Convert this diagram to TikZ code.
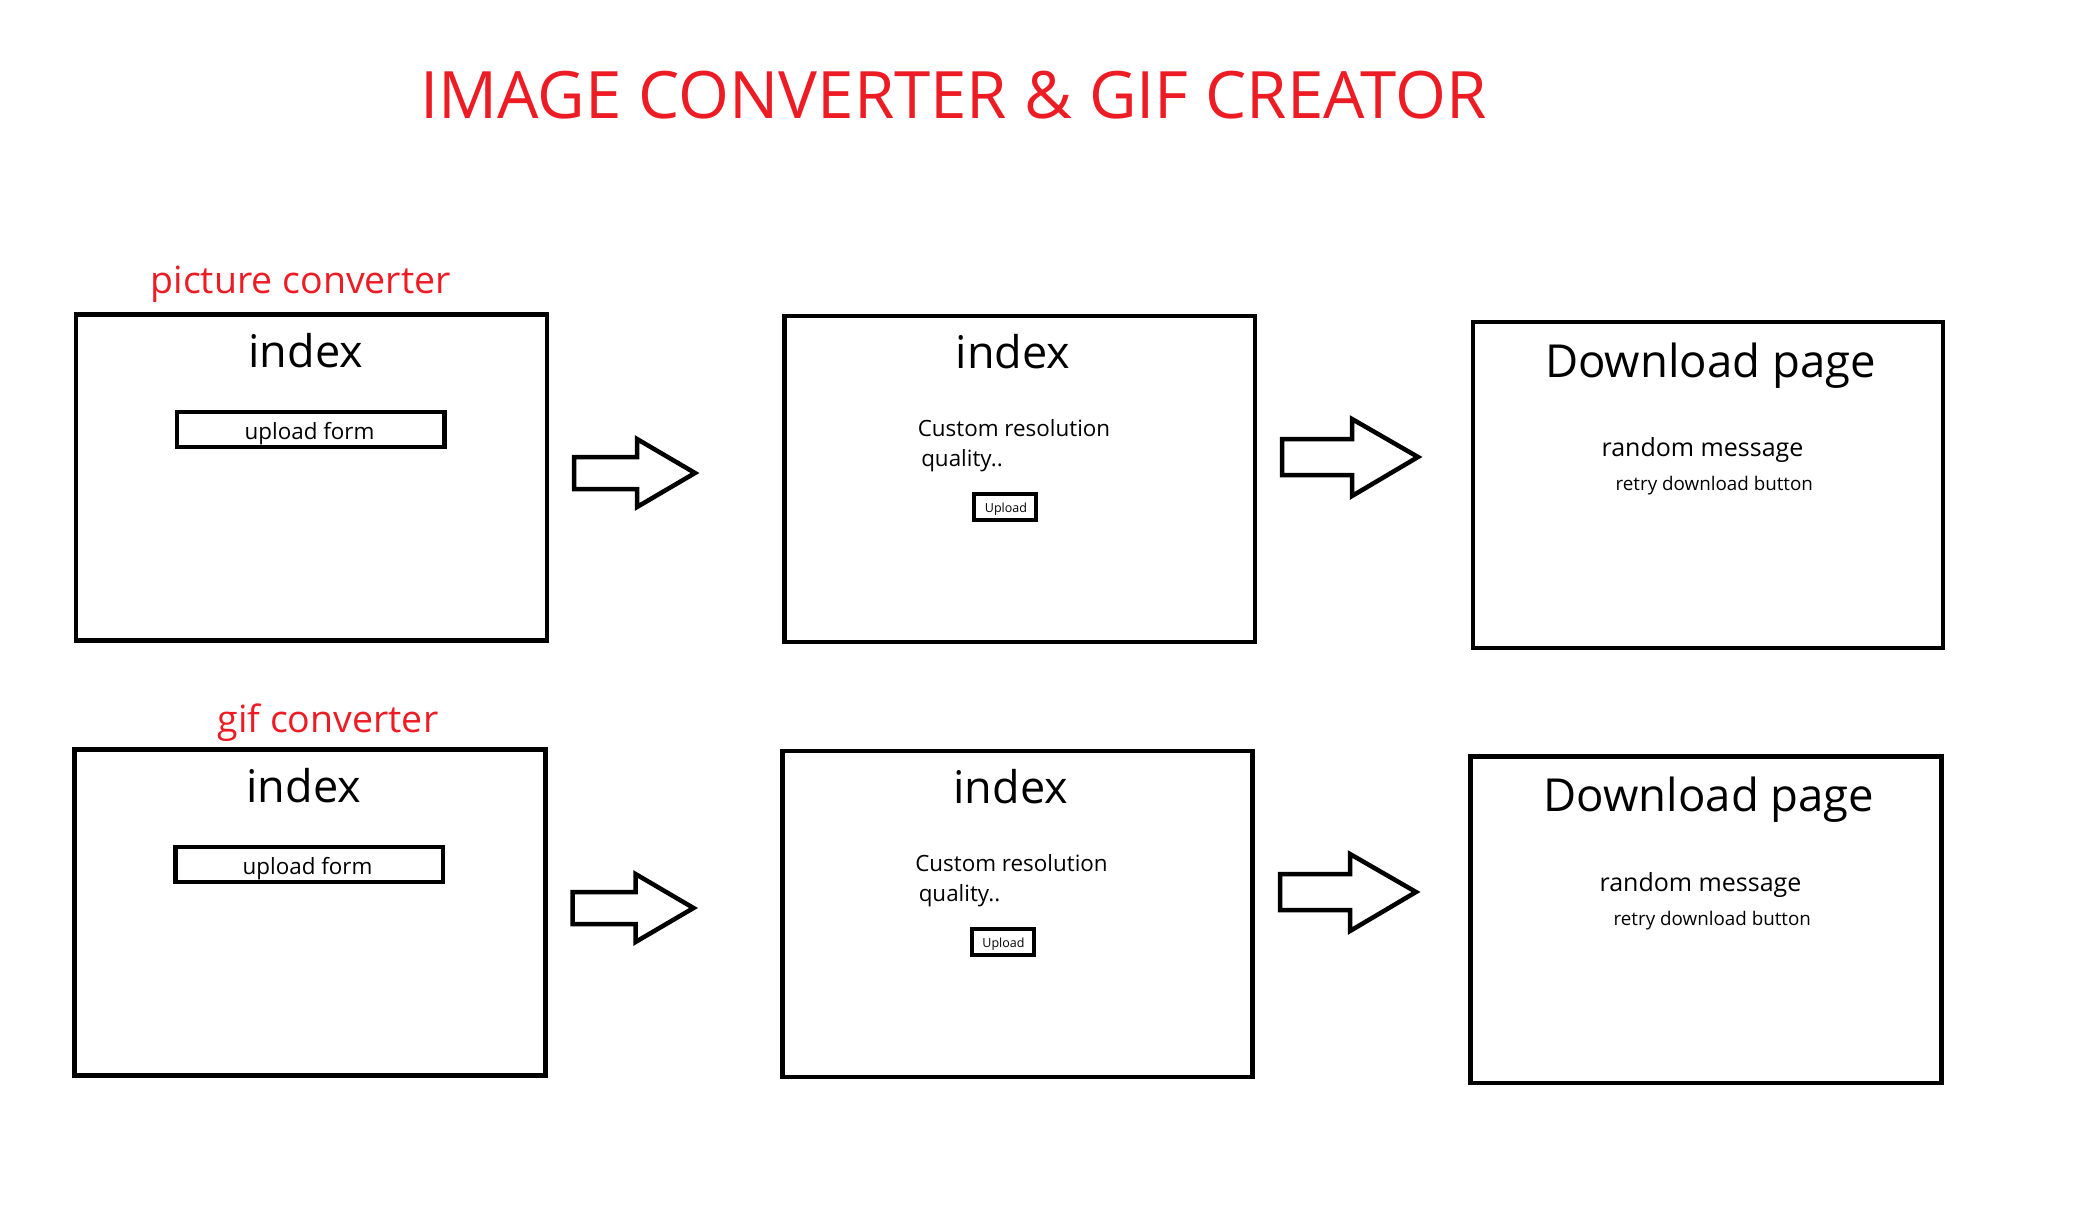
\documentclass[tikz,border=0pt]{standalone}
\usepackage{fontspec}
\setmainfont{Open Sans}
\definecolor{paintred}{RGB}{237,28,36}
\tikzset{
  pageframe/.style={draw=black, line width=4.7pt, rectangle, inner sep=0pt, outer sep=0pt,
                    minimum width=471pt, minimum height=326.5pt},
  formbox/.style={draw=black, line width=4.5pt, rectangle, inner sep=0pt, outer sep=0pt,
                  minimum width=267.5pt, minimum height=35pt},
  btnbox/.style={draw=black, line width=4pt, rectangle, inner sep=0pt, outer sep=0pt,
                 minimum width=62pt, minimum height=26pt},
  txt/.style={anchor=base, inner sep=0pt, outer sep=0pt, text=black},
  titletxt/.style={txt, text=paintred, font=\fontsize{65.4}{70}\selectfont},
  sectiontxt/.style={txt, text=paintred, font=\fontsize{37.5}{42}\selectfont},
  headtxt/.style={txt, font=\fontsize{45}{50}\selectfont},
  bigheadtxt/.style={txt, font=\fontsize{45.5}{50}\selectfont},
  bodytxt/.style={txt, font=\fontsize{22.4}{26}\selectfont},
  msgtxt/.style={txt, font=\fontsize{25}{29}\selectfont},
  smalltxt/.style={txt, font=\fontsize{18.8}{22}\selectfont},
  btntxt/.style={txt, font=\fontsize{12.5}{15}\selectfont},
  blockarr/.style={draw=black, line width=4.5pt, fill=white, line join=miter},
}
\begin{document}
\begin{tikzpicture}[x=1pt, y=-1pt]
  \useasboundingbox (0,0) rectangle (2081,1221);

  % heading
  \node[titletxt] (title) at (953.5,118) {IMAGE CONVERTER \& GIF CREATOR};

  % ---------- picture converter row ----------
  \node[sectiontxt] (picLabel) at (300.7,293) {picture converter};

  \node[pageframe] (picIndex) at (311.5,477.5) {};
  \node[headtxt] (picIndexTitle) at (305.8,367.7) {index};
  \node[formbox] (picForm) at (310.75,429.5) {};
  \node[bodytxt] (picFormText) at (309.5,439) {upload form};

  \node[pageframe, minimum width=470.5pt, minimum height=326pt] (picOpts) at (1019.75,479) {};
  \node[headtxt] (picOptsTitle) at (1013,368) {index};
  \node[bodytxt] (picOptsRes) at (1014,436) {Custom resolution};
  \node[bodytxt] (picOptsQual) at (962,466.7) {quality..};
  \node[btnbox] (picUpload) at (1005,507) {};
  \node[btntxt] (picUploadText) at (1006,512) {Upload};

  \node[pageframe, minimum width=470pt, minimum height=326pt] (picDown) at (1708,485) {};
  \node[bigheadtxt] (picDownTitle) at (1710.5,377) {Download page};
  \node[msgtxt] (picDownMsg) at (1702.5,456) {random message};
  \node[smalltxt] (picDownRetry) at (1714.3,490.7) {retry download button};

  % block arrows between the pages
  \draw[blockarr] (574,457) -- (637,457) -- (637,439) -- (695,473) -- (637,507)
                  -- (637,489) -- (574,489) -- cycle;
  \draw[blockarr] (1282,439) -- (1352,439) -- (1352,419) -- (1418,457) -- (1352,496)
                  -- (1352,475) -- (1282,475) -- cycle;

  % ---------- gif converter row ----------
  \node[sectiontxt] (gifLabel) at (328,732.7) {gif converter};

  \node[pageframe] (gifIndex) at (310,912.5) {};
  \node[headtxt] (gifIndexTitle) at (303.8,802.7) {index};
  \node[formbox] (gifForm) at (309,864.3) {};
  \node[bodytxt] (gifFormText) at (307.5,874.3) {upload form};

  \node[pageframe, minimum width=470.5pt, minimum height=326pt] (gifOpts) at (1017.5,914) {};
  \node[headtxt] (gifOptsTitle) at (1010.7,803) {index};
  \node[bodytxt] (gifOptsRes) at (1011.5,871) {Custom resolution};
  \node[bodytxt] (gifOptsQual) at (959.5,901.7) {quality..};
  \node[btnbox] (gifUpload) at (1002.5,942) {};
  \node[btntxt] (gifUploadText) at (1003.5,947) {Upload};

  \node[pageframe, minimum width=471pt, minimum height=326.5pt] (gifDown) at (1706,919.75) {};
  \node[bigheadtxt] (gifDownTitle) at (1709,811.7) {Download page};
  \node[msgtxt] (gifDownMsg) at (1700.5,891.7) {random message};
  \node[smalltxt] (gifDownRetry) at (1712.3,925) {retry download button};

  \draw[blockarr] (572.5,892) -- (635.5,892) -- (635.5,874) -- (693.5,908) -- (635.5,942)
                  -- (635.5,924) -- (572.5,924) -- cycle;
  \draw[blockarr] (1280,874) -- (1350,874) -- (1350,854) -- (1416,892) -- (1350,931)
                  -- (1350,910) -- (1280,910) -- cycle;
\end{tikzpicture}
\end{document}
